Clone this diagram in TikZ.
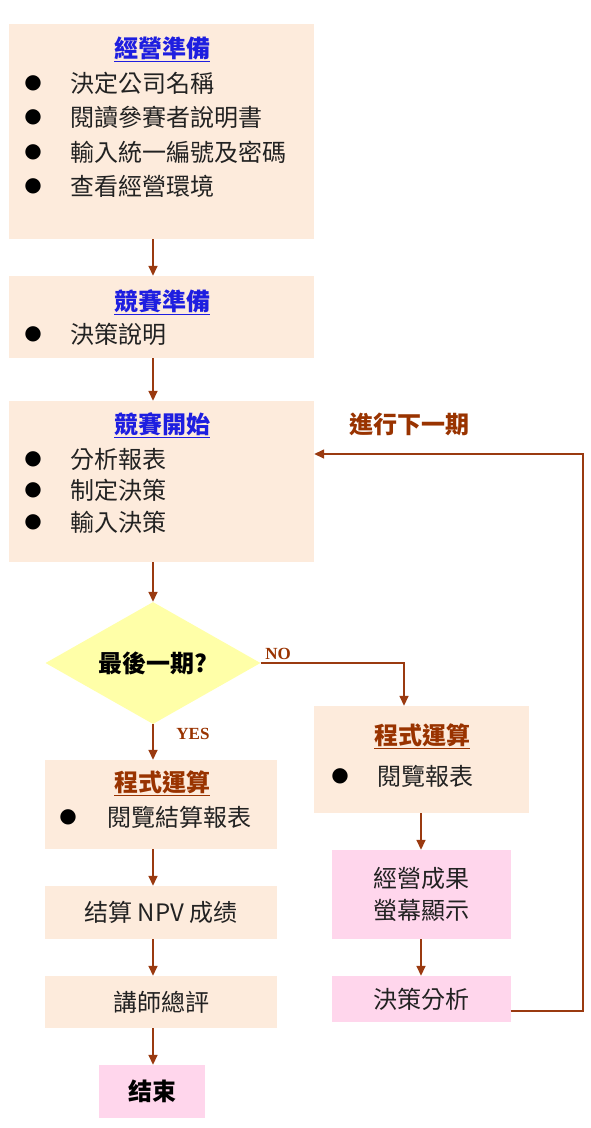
\documentclass[tikz,border=0pt]{standalone}
\usepackage{fontspec}
\setmainfont{Noto Sans CJK TC}
\newfontfamily\serfont{Liberation Serif}
\newfontfamily\bulfont{DejaVu Sans}
\usetikzlibrary{arrows.meta,shapes.geometric,calc}
\definecolor{peach}{HTML}{FDEBDC}
\definecolor{pinkc}{HTML}{FFD6EC}
\definecolor{yelc}{HTML}{FFFFA8}
\definecolor{arrowc}{HTML}{9A3A10}
\definecolor{brownc}{HTML}{993300}
\definecolor{bluec}{HTML}{1E1EE0}
\definecolor{bodyc}{HTML}{222222}
\begin{document}
\begin{tikzpicture}[x=1pt,y=-1pt,
  box/.style={rectangle, fill=peach, inner sep=0pt},
  pbox/.style={rectangle, fill=pinkc, inner sep=0pt},
  conn/.style={draw=arrowc, line width=1.5pt, -{Triangle[width=9pt,length=10pt]}},
  body/.style={font=\fontsize{24}{32}\selectfont, text=bodyc, inner sep=0pt},
  bluet/.style={font=\fontsize{24}{28}\selectfont\bfseries, text=bluec, inner sep=0pt},
  brownt/.style={font=\fontsize{24}{28}\selectfont\bfseries, text=brownc, inner sep=0pt},
  lbl/.style={font=\serfont\fontsize{17}{19}\selectfont\bfseries, text=brownc, inner sep=0pt},
  bul/.style={font=\bulfont\fontsize{20}{22}\selectfont, text=black, inner sep=0pt},
]
\fill[white] (0,0) rectangle (591,1128);
\useasboundingbox (0,0) rectangle (591,1128);

% column coordinates
\coordinate (colL) at (153,0);
\coordinate (noC) at (404,0);

% Box 1
\node[box, minimum width=305pt, minimum height=215pt] (b1) at (161.5,131.5) {};
\node[bluet] (t1) at (162,49) {\underline{經營準備}};
\foreach \y/\t [count=\i] in {83/決定公司名稱, 117/閱讀參賽者說明書, 152/輸入統一編號及密碼, 186/查看經營環境}{
  \node[bul] (b1d\i) at (33,\y) {●};
  \node[body, anchor=west] (b1t\i) at (70,\y) {\t};
}

% Box 2
\node[box, minimum width=305pt, minimum height=82pt] (b2) at (161.5,317) {};
\node[bluet] (t2) at (162,302) {\underline{競賽準備}};
\node[bul] (b2d1) at (33,334) {●};
\node[body, anchor=west] (b2t1) at (70,334) {決策說明};

% Box 3
\node[box, minimum width=305pt, minimum height=161pt] (b3) at (161.5,481.5) {};
\node[bluet] (t3) at (162,425) {\underline{競賽開始}};
\foreach \y/\t [count=\i] in {459/分析報表, 490/制定決策, 522/輸入決策}{
  \node[bul] (b3d\i) at (33,\y) {●};
  \node[body, anchor=west] (b3t\i) at (70,\y) {\t};
}

% Diamond
\node[diamond, aspect=1.76, fill=yelc, inner sep=0pt, minimum width=215pt, minimum height=122pt,
      font=\fontsize{24}{28}\selectfont\bfseries, text=black] (d) at (153,663) {最後一期?};

% Left program box
\node[box, minimum width=232pt, minimum height=89pt] (lp) at (161,804.5) {};
\node[brownt] (lpt) at (162,783) {\underline{程式運算}};
\node[bul] (lpd) at (68,817) {●};
\node[body, anchor=west] (lpx) at (107,817) {閱覽結算報表};

% NPV box
\node[box, minimum width=232pt, minimum height=53pt, body] (npv) at (161,912.5) {结算 NPV 成绩};
% review box
\node[box, minimum width=232pt, minimum height=52pt, body] (rev) at (161,1002) {講師總評};
% end box
\node[pbox, minimum width=106pt, minimum height=53pt, font=\fontsize{24}{28}\selectfont\bfseries, text=black] (end) at (152,1091.5) {结束};

% Right program box
\node[box, minimum width=215pt, minimum height=107pt] (rp) at (421,759.5) {};
\node[brownt] (rpt) at (422,736) {\underline{程式運算}};
\node[bul] (rpd) at (340,776) {●};
\node[body, anchor=west] (rpx) at (377,776) {閱覽報表};

% pink boxes right
\node[pbox, minimum width=179pt, minimum height=89pt, body, align=center] (res) at (421,894.5) {經營成果\\螢幕顯示};
\node[pbox, minimum width=179pt, minimum height=46pt, body] (ana) at (421,999) {決策分析};

% labels
\node[lbl] (no) at (278,654) {NO};
\node[lbl] (yes) at (193,734) {YES};
\node[font=\fontsize{24}{28}\selectfont\bfseries, text=brownc, inner sep=0pt] (next) at (409,424) {進行下一期};

% connectors
\draw[conn] (b1.south -| colL) -- (b2.north -| colL);
\draw[conn] (b2.south -| colL) -- (b3.north -| colL);
\draw[conn] (b3.south -| colL) -- (d.north);
\draw[conn] (d.south) -- (lp.north -| colL);
\draw[conn] (lp.south -| colL) -- (npv.north -| colL);
\draw[conn] (npv.south -| colL) -- (rev.north -| colL);
\draw[conn] (rev.south -| colL) -- (end.north -| colL);
\draw[conn] (d.east) -- (d.east -| noC) -- (rp.north -| noC);
\draw[conn] (rp.south) -- (res.north);
\draw[conn] (res.south) -- (ana.north);
\coordinate (loopA) at (583,1011);
\coordinate (loopB) at (583,454);
\draw[conn] (ana.east |- loopA) -- (loopA) -- (loopB) -- (b3.east |- loopB);
\end{tikzpicture}
\end{document}
